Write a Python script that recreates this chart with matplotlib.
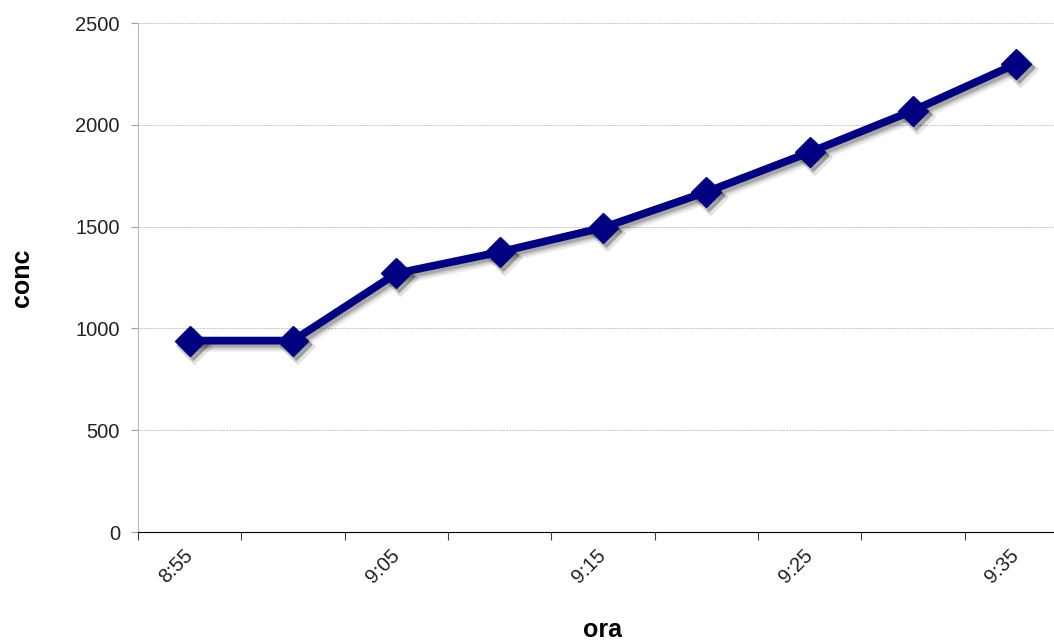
import matplotlib.pyplot as plt
from matplotlib.transforms import ScaledTranslation
from matplotlib.ticker import FixedLocator, NullFormatter

ore = ['8:55', '9:00', '9:05', '9:10', '9:15', '9:20', '9:25', '9:30', '9:35']
conc = [940, 940, 1270, 1375, 1495, 1670, 1865, 2070, 2300]

plt.rcParams['font.family'] = ['Liberation Sans', 'DejaVu Sans']

fig = plt.figure(figsize=(10.54, 6.4), dpi=100)
ax = fig.add_axes([0.1309, 0.16875, 0.8824, 0.7953])

x = list(range(len(ore)))

# ombra morbida: qualche copia spostata in basso a destra
for dx, dy, a, extra in [(4, -5, 0.08, 3), (3, -4, 0.12, 1.5), (3, -3, 0.18, 0)]:
    off = ax.transData + ScaledTranslation(dx / 100, dy / 100, fig.dpi_scale_trans)
    ax.plot(x, conc, color='black', alpha=a, lw=5.6 + extra, marker='D', ms=15 + extra,
            solid_joinstyle='round', transform=off, zorder=3)

ax.plot(x, conc, color='#000080', lw=5.6, marker='D', ms=15, solid_joinstyle='round', zorder=5)

ax.set_xlim(-0.5, len(ore) - 0.5)
ax.set_ylim(0, 2500)
ax.set_yticks(range(0, 2501, 500))
ax.grid(axis='y', color='#c4c4c4', lw=0.7, ls=(0, (2, 1)))

# categorie: tacche ai bordi, etichette una si e una no
ax.set_xticks([i - 0.5 for i in range(len(ore) + 1)])
ax.xaxis.set_major_formatter(NullFormatter())
ax.xaxis.set_minor_locator(FixedLocator(x[::2]))
ax.set_xticklabels(ore[::2], minor=True, rotation=45, fontsize=14.5, ha='right', va='center',
                   rotation_mode='anchor', color='#222222')
ax.tick_params(axis='x', which='minor', length=0, pad=15)
ax.tick_params(axis='x', which='major', length=6, color='#404040')
ax.tick_params(axis='y', length=5, color='#a0a0a0', labelsize=14.5, labelcolor='#222222', pad=8)

for s in ['top', 'right']:
    ax.spines[s].set_visible(False)
ax.spines['left'].set_color('#b8b8b8')
ax.spines['left'].set_linestyle((0, (2, 1)))
ax.spines['bottom'].set_color('black')

ax.set_ylabel('conc', fontsize=18, fontweight='bold', labelpad=30)
ax.set_xlabel('ora', fontsize=18, fontweight='bold', labelpad=22)

fig.savefig('out.png', dpi=100)
